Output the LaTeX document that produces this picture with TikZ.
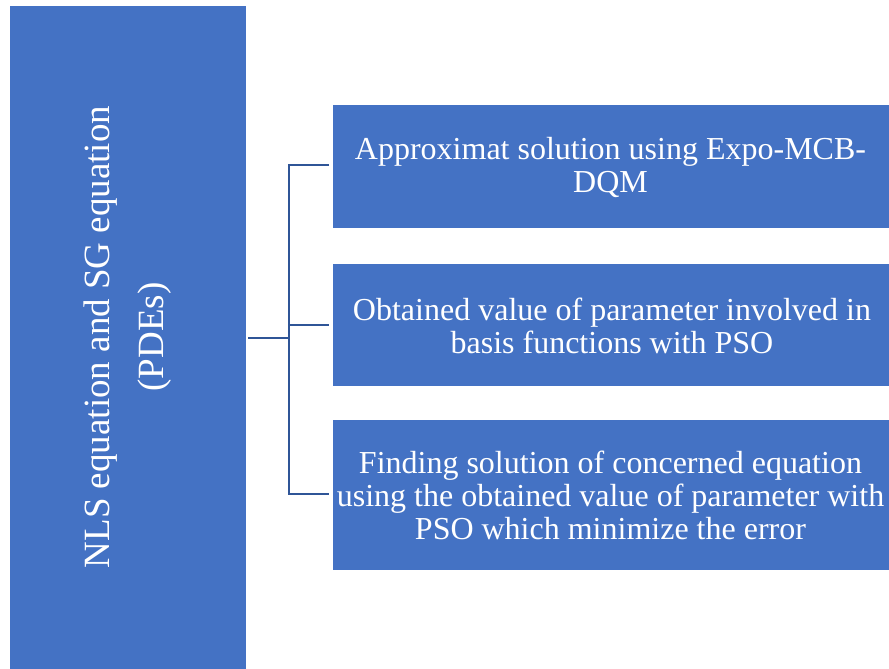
\documentclass[tikz,border=0pt]{standalone}
\usepackage{fontspec}
\setmainfont{Liberation Serif}
\definecolor{boxblue}{HTML}{4472C4}
\definecolor{linkblue}{HTML}{2F5597}
\begin{document}
\begin{tikzpicture}[x=1pt,y=-1pt,
  bluebox/.style={fill=boxblue,draw=white,line width=0.6pt},
  boxtext/.style={text=white,align=center,font=\fontsize{32}{33}\selectfont},
  link/.style={draw=linkblue,line width=2.2pt}]
\useasboundingbox (0,0) rectangle (889,669);
\fill[white] (0,0) rectangle (889,669);
\draw[bluebox] (9,5) rectangle (246,669);
\node[boxtext,rotate=90,font=\fontsize{37}{54}\selectfont] (main) at (127.5,337) {NLS equation and SG equation\\(PDEs)};
\coordinate (mainR) at (248,338);
\draw[bluebox] (332,104) rectangle (889,228);
\draw[bluebox] (332,263) rectangle (889,386);
\draw[bluebox] (332,419) rectangle (889,570);
\node[boxtext] (b1) at (610.5,167) {Approximat solution using Expo-MCB-\\DQM};
\node[boxtext] (b2) at (612,325.5) {Obtained value of parameter involved in\\basis functions with PSO};
\node[boxtext] (b3) at (610.5,495.5) {Finding solution of concerned equation\\using the obtained value of parameter with\\PSO which minimize the error};
\coordinate (e1) at (329,165);
\coordinate (e2) at (329,325);
\coordinate (e3) at (329,494);
\coordinate (jn) at (289,338);
\draw[link] (mainR) -- (jn);
\draw[link] (e1) -- (289,165) -- (289,494) -- (e3);
\draw[link] (289,325) -- (e2);
\end{tikzpicture}
\end{document}
